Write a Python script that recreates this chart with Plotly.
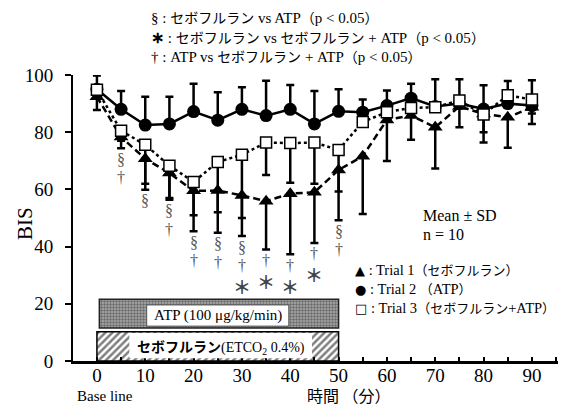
import plotly.graph_objects as go

time = [0, 5, 10, 15, 20, 25, 30, 35, 40, 45, 50, 55, 60, 65, 70, 75, 80, 85, 90]

trial1_mean = [92.4, 78.3, 70.7, 65.7, 59.5, 59.6, 57.9, 55.9, 58.5, 59.0, 66.8, 71.6, 84.3, 85.8, 81.7, 89.0, 86.4, 85.2, 88.7]
trial1_lower = [87.8, 74.4, 59.9, 56.4, 45.4, 44.8, 43.7, 39.0, 37.3, 41.3, 49.2, 51.4, 69.9, 77.4, 67.3, 81.7, 76.4, 74.6, 82.9]

trial2_mean = [95.0, 88.0, 82.5, 82.9, 87.2, 84.2, 88.0, 85.8, 88.0, 82.9, 87.3, 87.0, 89.3, 91.9, 89.0, 90.0, 88.1, 90.0, 89.3]
trial2_upper = [99.8, 94.4, 92.4, 92.4, 96.9, 94.0, 95.7, 98.0, 96.5, 94.4, 95.0, 91.4, 94.6, 96.9, 98.5, 98.5, 96.4, 97.9, 98.2]

trial3_mean = [94.8, 80.5, 75.6, 68.3, 62.6, 69.6, 72.1, 76.4, 76.2, 76.4, 73.8, 83.6, 87.0, 88.5, 88.7, 91.1, 86.2, 92.9, 91.4]
trial3_lower = [94.8, 77.0, 62.0, 57.0, 51.0, 52.0, 50.0, 65.0, 62.3, 62.0, 59.3, 83.6, 87.0, 88.5, 88.7, 91.1, 80.0, 92.9, 86.5]

sig_marks = ["", "§†", "§", "§†", "§†", "§†", "§†∗", "†∗", "†∗", "†∗", "§†", "", "", "", "", "", "", "", ""]

atp_period = [0.5, 50]
sevo_period = [0, 50]

x_ticks = [0, 10, 20, 30, 40, 50, 60, 70, 80, 90]
y_ticks = [0, 20, 40, 60, 80, 100]

SERIF_JP = "Liberation Serif, Noto Sans CJK JP"
JP = "Noto Sans CJK JP"

# The page body adds an 8px margin; lay the figure out in reference pixels minus that offset.
OFF = 8
W, H = 567 - OFF, 406 - OFF
L = 73 - OFF
T = 75 - OFF
R = W - (558.3 - OFF)
B = H - (361 - OFF)


def px(x):
    return (x - OFF - L) / (W - L - R)


def py(y):
    return (H - B - (y - OFF)) / (H - T - B)


def jp(s, size=14):
    return f"<span style=\"font-family:{JP};font-size:{size}px\">{s}</span>"


fig = go.Figure()

# Treatment bars
fig.add_trace(go.Bar(
    orientation="h", y=[5.1], x=[sevo_period[1] - sevo_period[0]], base=[sevo_period[0]], width=10.2,
    marker=dict(color="white", line=dict(color="black", width=1.5),
                pattern=dict(shape="/", fgcolor="black", bgcolor="white", size=5, solidity=0.5)),
    showlegend=False, hoverinfo="skip"))
fig.add_trace(go.Bar(
    orientation="h", y=[16.55], x=[atp_period[1] - atp_period[0]], base=[atp_period[0]], width=10.1,
    marker=dict(color="#8a8a8a", line=dict(color="#222", width=1.5),
                pattern=dict(shape=".", fgcolor="#2a2a2a", bgcolor="#aaaaaa", size=3, solidity=0.5)),
    showlegend=False, hoverinfo="skip"))

err_style = dict(color="black", thickness=2.5, width=4)

# Trial 2 (ATP) circles, solid
fig.add_trace(go.Scatter(
    x=time, y=trial2_mean, mode="lines+markers",
    line=dict(color="black", width=2.5),
    marker=dict(symbol="circle", size=13, color="black"),
    error_y=dict(type="data", symmetric=False,
                 array=[u - m for u, m in zip(trial2_upper, trial2_mean)],
                 arrayminus=[0] * len(time), **err_style),
    showlegend=False))

# Trial 1 (sevo) triangles, dashed
fig.add_trace(go.Scatter(
    x=time, y=trial1_mean, mode="lines+markers",
    line=dict(color="black", width=2.5, dash="7px,4px"),
    marker=dict(symbol="triangle-up", size=13, color="black"),
    error_y=dict(type="data", symmetric=False,
                 array=[0] * len(time),
                 arrayminus=[m - lo for m, lo in zip(trial1_mean, trial1_lower)], **err_style),
    showlegend=False))

# Trial 3 (sevo + ATP) squares, dotted
fig.add_trace(go.Scatter(
    x=time, y=trial3_mean, mode="lines+markers",
    line=dict(color="black", width=2.5, dash="3px,3px"),
    marker=dict(symbol="square", size=11, color="white", line=dict(color="black", width=1.5)),
    error_y=dict(type="data", symmetric=False,
                 array=[0] * len(time),
                 arrayminus=[m - lo for m, lo in zip(trial3_mean, trial3_lower)], **err_style),
    showlegend=False))

ann = []
# significance marks below Trial 1 lower error ends
for t, lo, s in zip(time, trial1_lower, sig_marks):
    for k, ch in enumerate(s):
        is_ast = ch == "∗"
        ann.append(dict(x=t, y=lo, xref="x", yref="y", text="<b>＊</b>" if is_ast else ch,
                        showarrow=False, yanchor="middle", xanchor="center",
                        yshift=-(11 + 18.5 * k + (2 if is_ast else 0)),
                        font=dict(family=JP if is_ast else SERIF_JP, size=18 if is_ast else 16,
                                  color="#444" if is_ast else "#555")))

# Bar labels
shapes = [
    dict(type="rect", xref="x", yref="y", x0=6.7, x1=44.5, y0=1.0, y1=9.8,
         fillcolor="white", line=dict(width=0), layer="above"),
    dict(type="rect", xref="x", yref="y", x0=10.3, x1=39.7, y0=12.2, y1=19.6,
         fillcolor="white", line=dict(color="#555", width=1), layer="above"),
]
ann.append(dict(x=25, y=15.9, xref="x", yref="y", showarrow=False,
                xanchor="center", yanchor="middle",
                text="ATP (100 μg/kg/min)", font=dict(family=SERIF_JP, size=15, color="black")))
ann.append(dict(x=25.6, y=5.2, xref="x", yref="y", showarrow=False,
                xanchor="center", yanchor="middle",
                text=jp("<b>セボフルラン</b>", 14) + "(ETCO<sub>2</sub> 0.4%)",
                font=dict(family=SERIF_JP, size=14, color="black")))

# Top key (one block, three lines)
top_lines = [
    "§ : " + jp("セボフルラン") + " vs ATP" + jp("（") + "p < 0.05" + jp("）"),
    jp("<b>∗</b>", 16) + " : " + jp("セボフルラン") + " vs " + jp("セボフルラン") + " + ATP"
    + jp("（") + "p < 0.05" + jp("）"),
    "† : ATP vs " + jp("セボフルラン") + " + ATP" + jp("（") + "p < 0.05" + jp("）"),
]
ann.append(dict(x=px(149), y=py(36.5), xref="paper", yref="paper", showarrow=False,
                xanchor="left", yanchor="middle", align="left", text="<br>".join(top_lines),
                font=dict(family=SERIF_JP, size=15, color="black")))

# Right key
right_lines = [
    ("▲", " : Trial 1" + jp("（セボフルラン）", 13)),
    ("●", " : Trial 2 " + jp("（", 13) + "ATP" + jp("）", 13)),
    ("□", " : Trial 3" + jp("（セボフルラン", 13) + "+ATP" + jp("）", 13)),
]
ann.append(dict(x=px(353), y=py(288.5), xref="paper", yref="paper", showarrow=False,
                xanchor="left", yanchor="middle", align="left",
                text="<br>".join(f"<span style=\"font-family:DejaVu Sans;font-size:13px\">{s}</span>{t}"
                                 for s, t in right_lines),
                font=dict(family=SERIF_JP, size=14.5, color="black")))

ann.append(dict(x=px(460), y=py(215), xref="paper", yref="paper", showarrow=False,
                xanchor="center", yanchor="middle",
                text="Mean ± SD", font=dict(family=SERIF_JP, size=16, color="black")))
ann.append(dict(x=px(444), y=py(235), xref="paper", yref="paper", showarrow=False,
                xanchor="center", yanchor="middle",
                text="n = 10", font=dict(family=SERIF_JP, size=16, color="black")))

ann.append(dict(x=px(75), y=py(396), xref="paper", yref="paper", showarrow=False,
                xanchor="left", yanchor="middle",
                text="Base line", font=dict(family=SERIF_JP, size=15, color="black")))
ann.append(dict(x=px(349), y=py(395), xref="paper", yref="paper", showarrow=False,
                xanchor="center", yanchor="middle",
                text="時間 （分）", font=dict(family=JP, size=16, color="black")))
ann.append(dict(x=px(25), y=py(224), xref="paper", yref="paper", showarrow=False, textangle=-90,
                xanchor="center", yanchor="middle",
                text="BIS", font=dict(family=SERIF_JP, size=21, color="black")))

fig.update_layout(
    width=W, height=H, margin=dict(l=L, r=R, t=T, b=B, autoexpand=False),
    paper_bgcolor="white", plot_bgcolor="white",
    barmode="overlay", showlegend=False,
    font=dict(family=SERIF_JP, color="black"),
    annotations=ann, shapes=shapes,
    xaxis=dict(range=[-4.95, 95.4], tickvals=x_ticks, ticktext=[str(v) for v in x_ticks],
               ticks="inside", ticklen=4, tickwidth=2, tickcolor="black",
               minor=dict(dtick=5, tick0=0, ticks="inside", ticklen=4, tickwidth=2, tickcolor="black"),
               showline=True, linecolor="black", linewidth=3,
               showgrid=False, zeroline=False, tickfont=dict(size=19, family=SERIF_JP),
               ticklabelstandoff=-5, automargin=False),
    yaxis=dict(range=[0, 100], tickvals=y_ticks, ticks="outside", ticklen=6, tickwidth=2,
               tickcolor="black", showline=True, linecolor="black", linewidth=2,
               showgrid=False, zeroline=False, tickfont=dict(size=19, family=SERIF_JP),
               ticklabelstandoff=8, automargin=False),
)

fig.write_html("out.html")
